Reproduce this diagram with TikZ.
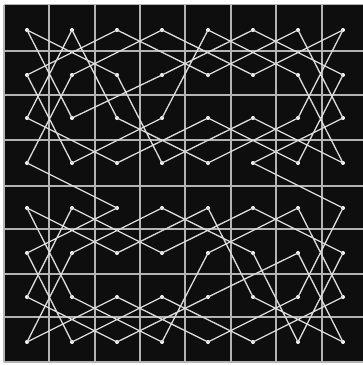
\documentclass[tikz,border=0pt]{standalone}
\definecolor{boardbg}{HTML}{0E0E0E}
\definecolor{gridcol}{HTML}{B4B4B4}
\definecolor{tourcol}{HTML}{DCDCDC}
\tikzset{
  dot/.style={circle,fill=white,draw=none,inner sep=0pt,minimum size=4pt},
  gridline/.style={draw=gridcol,line width=1.4pt},
  tour/.style={draw=tourcol,line width=1.3pt,line join=round}
}
\begin{document}
\begin{tikzpicture}[x=1pt,y=-1pt]
\useasboundingbox (0,0) rectangle (363,365);
\fill[white] (0,0) rectangle (363,365);
\fill[boardbg] (4,4.5) rectangle (363,362);
% grid
\foreach \gx in {4,49,95,140,185,231,276,322}{
  \draw[gridline] (\gx,4.5) -- (\gx,362);
}
\foreach \gy in {4.5,51,95,140,186,229,274,317,362}{
  \draw[gridline] (4,\gy) -- (363,\gy);
}
% squares
\foreach \r/\yy in {0/30,1/75,2/118,3/163,4/208,5/253,6/297,7/342}{
  \foreach \c/\xx in {0/27,1/72,2/117,3/162,4/208,5/253,6/298,7/343}{
    \node[dot] (d\r\c) at (\xx,\yy) {};
  }
}
% knight's tour
\draw[tour] (d30.center) -- (d11.center) -- (d03.center) -- (d15.center) -- (d07.center) -- (d26.center) -- (d34.center) -- (d22.center)
 -- (d01.center) -- (d20.center) -- (d32.center) -- (d24.center) -- (d36.center) -- (d17.center) -- (d05.center) -- (d13.center)
 -- (d21.center) -- (d00.center) -- (d12.center) -- (d33.center) -- (d25.center) -- (d37.center) -- (d16.center) -- (d04.center)
 -- (d23.center) -- (d31.center) -- (d10.center) -- (d02.center) -- (d14.center) -- (d06.center) -- (d27.center) -- (d35.center)
 -- (d47.center) -- (d66.center) -- (d74.center) -- (d62.center) -- (d70.center) -- (d51.center) -- (d43.center) -- (d55.center)
 -- (d76.center) -- (d57.center) -- (d45.center) -- (d53.center) -- (d41.center) -- (d60.center) -- (d72.center) -- (d64.center)
 -- (d56.center) -- (d77.center) -- (d65.center) -- (d44.center) -- (d52.center) -- (d40.center) -- (d61.center) -- (d73.center)
 -- (d54.center) -- (d46.center) -- (d67.center) -- (d75.center) -- (d63.center) -- (d71.center) -- (d50.center) -- (d42.center)
 -- (d30.center);
\end{tikzpicture}
\end{document}
